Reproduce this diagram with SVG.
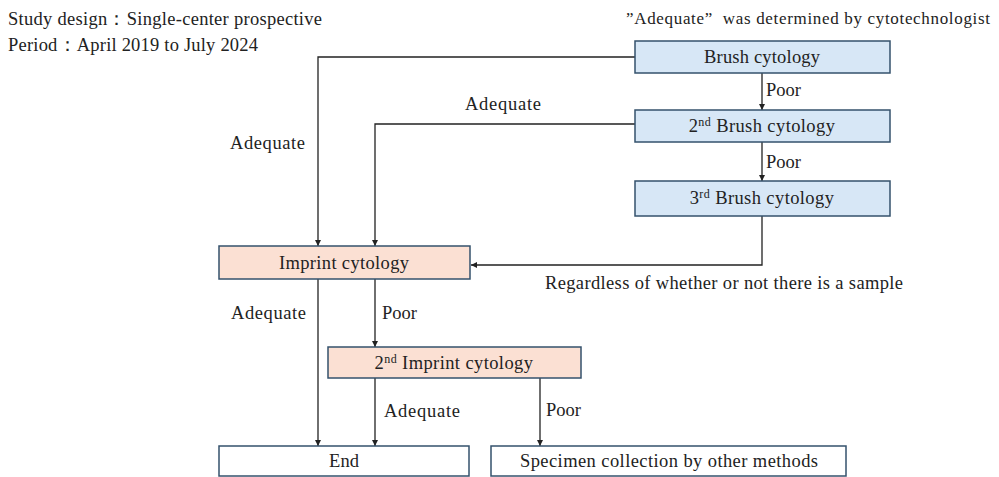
<svg xmlns="http://www.w3.org/2000/svg" width="999" height="477" viewBox="0 0 999 477">
<defs>
<style>
text{font-family:"Liberation Serif","Times New Roman",serif;fill:#222;}
.t{font-size:18.5px;}
.c{text-anchor:middle;}
.ls{letter-spacing:0.4px;}
.blue{fill:#d7e7f6;stroke:#34526c;stroke-width:1.5;}
.pink{fill:#fbe0d3;stroke:#34526c;stroke-width:1.5;}
.white{fill:#ffffff;stroke:#34526c;stroke-width:1.5;}
.ln{fill:none;stroke:#222;stroke-width:1.3;}
.sup{font-size:12px;}
</style>
<marker id="ah" viewBox="0 0 10 10" refX="10" refY="5" markerWidth="6" markerHeight="6" markerUnits="userSpaceOnUse" orient="auto">
<path d="M0,0 L10,5 L0,10 z" fill="#222"/>
</marker>
</defs>
<rect width="999" height="477" fill="#ffffff"/>
<g id="header">
<text class="t" x="8" y="25" textLength="314">Study design：Single-center prospective</text>
<text class="t" x="8" y="51" textLength="250">Period：April 2019 to July 2024</text>
<text x="626" y="24" style="font-size:17px" textLength="364" xml:space="preserve">”Adequate”  was determined by cytotechnologist</text>
</g>
<g id="connectors">
<polyline class="ln" points="635,57 318,57 318,246" marker-end="url(#ah)"/>
<polyline class="ln" points="635,124 375,124 375,246" marker-end="url(#ah)"/>
<line class="ln" x1="762" y1="73" x2="762" y2="110" marker-end="url(#ah)"/>
<line class="ln" x1="762" y1="142" x2="762" y2="181" marker-end="url(#ah)"/>
<polyline class="ln" points="762,216 762,265 471,265" marker-end="url(#ah)"/>
<line class="ln" x1="318" y1="279" x2="318" y2="446" marker-end="url(#ah)"/>
<line class="ln" x1="375" y1="279" x2="375" y2="347" marker-end="url(#ah)"/>
<line class="ln" x1="375" y1="378" x2="375" y2="446" marker-end="url(#ah)"/>
<line class="ln" x1="540" y1="378" x2="540" y2="446" marker-end="url(#ah)"/>
<text class="t" x="230" y="149" textLength="75">Adequate</text>
<text class="t" x="465" y="110" textLength="76">Adequate</text>
<text class="t" x="766" y="96" textLength="35">Poor</text>
<text class="t" x="766" y="168" textLength="35">Poor</text>
<text class="t" x="545" y="289" textLength="358">Regardless of whether or not there is a sample</text>
<text class="t" x="231" y="319" textLength="75">Adequate</text>
<text class="t" x="382" y="319" textLength="35">Poor</text>
<text class="t" x="384" y="417" textLength="76">Adequate</text>
<text class="t" x="546" y="416" textLength="35">Poor</text>
</g>
<g id="brush1">
<rect class="blue" x="635" y="41" width="255" height="32"/>
<text class="t" x="704" y="63" textLength="116">Brush cytology</text>
</g>
<g id="brush2">
<rect class="blue" x="635" y="110" width="255" height="32"/>
<text class="t c ls" x="762" y="132">2<tspan class="sup" dy="-6">nd</tspan><tspan dy="6"> Brush cytology</tspan></text>
</g>
<g id="brush3">
<rect class="blue" x="635" y="181" width="255" height="35"/>
<text class="t c ls" x="762" y="204">3<tspan class="sup" dy="-6">rd</tspan><tspan dy="6"> Brush cytology</tspan></text>
</g>
<g id="imprint1">
<rect class="pink" x="219" y="246" width="251" height="33"/>
<text class="t" x="279" y="269" textLength="130">Imprint cytology</text>
</g>
<g id="imprint2">
<rect class="pink" x="328" y="347" width="253" height="31"/>
<text class="t c ls" x="454" y="369">2<tspan class="sup" dy="-6">nd</tspan><tspan dy="6"> Imprint cytology</tspan></text>
</g>
<g id="end">
<rect class="white" x="219" y="446" width="250" height="30"/>
<text class="t c" x="344" y="467">End</text>
</g>
<g id="other">
<rect class="white" x="491" y="446" width="355" height="30"/>
<text class="t" x="520" y="467" textLength="298">Specimen collection by other methods</text>
</g>
</svg>
